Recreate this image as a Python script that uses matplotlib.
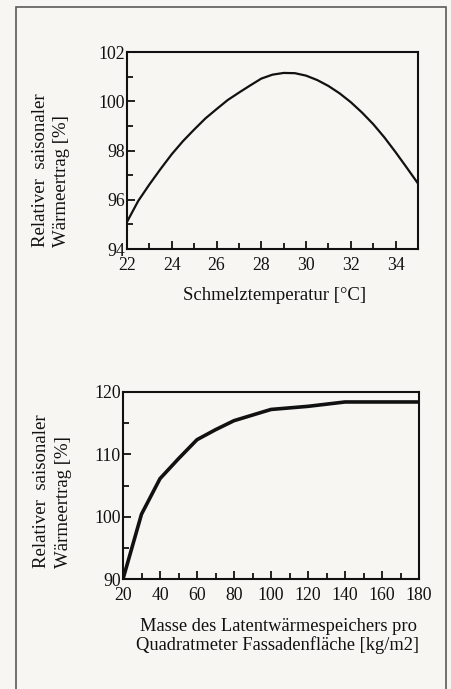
import matplotlib
matplotlib.use("Agg")
import matplotlib.pyplot as plt
from matplotlib.patches import Rectangle
from matplotlib.ticker import MultipleLocator

# top chart: melting temperature vs relative seasonal heat yield
temp = [22, 22.5, 23, 23.5, 24, 24.5, 25, 25.5, 26, 26.5, 27, 27.5, 28, 28.5,
        29, 29.5, 30, 30.5, 31, 31.5, 32, 32.5, 33, 33.5, 34, 34.5, 35]
yield_temp = [95.1, 95.95, 96.62, 97.25, 97.85, 98.38, 98.85, 99.3, 99.68,
              100.05, 100.35, 100.64, 100.92, 101.08, 101.15, 101.14, 101.04,
              100.86, 100.62, 100.32, 99.96, 99.54, 99.07, 98.53, 97.93,
              97.3, 96.66]

# bottom chart: PCM mass per facade area vs relative seasonal heat yield
mass = [20, 30, 40, 50, 60, 70, 80, 90, 100, 120, 140, 160, 180]
yield_mass = [90, 100.4, 106.1, 109.3, 112.35, 113.95, 115.4, 116.3, 117.2,
              117.7, 118.4, 118.4, 118.4]

ylab = "Relativer  saisonaler\nWärmeertrag [%]"
xlab_top = "Schmelztemperatur [°C]"
xlab_bot = "Masse des Latentwärmespeichers pro\nQuadratmeter Fassadenfläche [kg/m2]"

bg = "#f7f6f3"
W, H = 451, 689
plt.rcParams['font.family'] = ['Liberation Serif', 'DejaVu Serif']
fig = plt.figure(figsize=(W / 100, H / 100), dpi=100, facecolor=bg)

# page frame
fig.patches.append(Rectangle((16 / W, -0.05), (446 - 16) / W, 1.05 - 7 / H,
                             transform=fig.transFigure, fill=False,
                             edgecolor="#5a5a5a", linewidth=1.2))


def style(ax):
    ax.set_facecolor(bg)
    for s in ax.spines.values():
        s.set_linewidth(1.5)
        s.set_color("#111111")
    ax.tick_params(which="both", direction="in", top=False, right=False,
                   labelsize=12.8, colors="#111111")
    ax.tick_params(axis="y", pad=1.5)
    ax.tick_params(axis="x", pad=6)
    ax.tick_params(which="major", length=6, width=1.3)
    ax.tick_params(which="minor", length=4, width=1.3)


ax1 = fig.add_axes([127 / W, 1 - 249 / H, (418 - 127) / W, (249 - 52) / H])
ax1.plot(temp, yield_temp, color="#111111", linewidth=1.6)
ax1.set_xlim(22, 35)
ax1.set_ylim(94, 102)
ax1.xaxis.set_major_locator(MultipleLocator(2))
ax1.xaxis.set_minor_locator(MultipleLocator(1))
ax1.yaxis.set_major_locator(MultipleLocator(2))
ax1.yaxis.set_minor_locator(MultipleLocator(1))
style(ax1)
fig.text(275 / W, 1 - 295 / H, xlab_top, ha="center", va="center",
         fontsize=13.5, color="#111111")
fig.text(51 / W, 1 - 247 / H, ylab, rotation=90, ha="center", va="bottom",
         multialignment="left", fontsize=13.5, color="#111111", linespacing=1.32)

ax2 = fig.add_axes([123 / W, 1 - 579 / H, (419 - 123) / W, (579 - 392) / H])
ax2.plot(mass, yield_mass, color="#111111", linewidth=2.6)
ax2.set_xlim(20, 180)
ax2.set_ylim(90, 120)
ax2.xaxis.set_major_locator(MultipleLocator(20))
ax2.xaxis.set_minor_locator(MultipleLocator(10))
ax2.yaxis.set_major_locator(MultipleLocator(10))
ax2.yaxis.set_minor_locator(MultipleLocator(5))
style(ax2)
fig.text(278 / W, 1 - 636 / H, xlab_bot, ha="center", va="center",
         fontsize=13.3, color="#111111", linespacing=1.1)
fig.text(52.5 / W, 1 - 568 / H, ylab, rotation=90, ha="center", va="bottom",
         multialignment="left", fontsize=13.5, color="#111111", linespacing=1.32)

fig.savefig("out.png", dpi=100, facecolor=bg)
